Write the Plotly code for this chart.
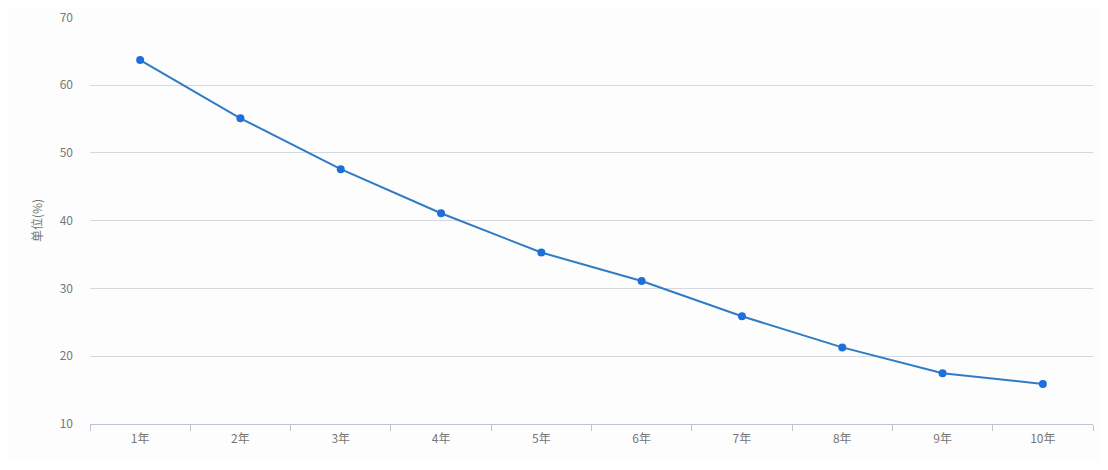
import plotly.graph_objects as go

categories = ["1年", "2年", "3年", "4年", "5年", "6年", "7年", "8年", "9年", "10年"]
values = [63.7, 55.1, 47.6, 41.1, 35.3, 31.1, 25.9, 21.3, 17.5, 15.9]
y_ticks = [10, 20, 30, 40, 50, 60, 70]

fig = go.Figure()
fig.add_trace(go.Scatter(
    x=categories, y=values, mode="lines+markers",
    line=dict(color="#2f7cc4", width=2),
    marker=dict(color="#1f6fd8", size=8),
    showlegend=False, cliponaxis=False,
))

fig.update_layout(
    width=1092, height=454,
    margin=dict(l=82, r=7, t=9, b=38),
    paper_bgcolor="#fdfdfd", plot_bgcolor="#fdfdfd",
    font=dict(family="Noto Sans CJK SC, sans-serif", size=12, color="#777777"),
    xaxis=dict(
        type="category", tickson="boundaries", ticks="outside", ticklen=6,
        range=[-0.5, len(categories) - 0.5],
        tickcolor="#bcc6d2", showline=True, linecolor="#bcc6d2", linewidth=1,
        showgrid=False, zeroline=False, ticklabelstandoff=4, automargin=False,
    ),
    yaxis=dict(
        range=[10, 70.05], tickvals=y_ticks, showgrid=True, gridcolor="#d5d9df",
        zeroline=False, showline=False, ticks="", ticklabelstandoff=16,
        automargin=False, ticklabeloverflow="allow",
        title=dict(text="单位(%)", standoff=14, font=dict(size=12, color="#777777")),
    ),
)

fig.write_html("out.html", config={"displayModeBar": False})
